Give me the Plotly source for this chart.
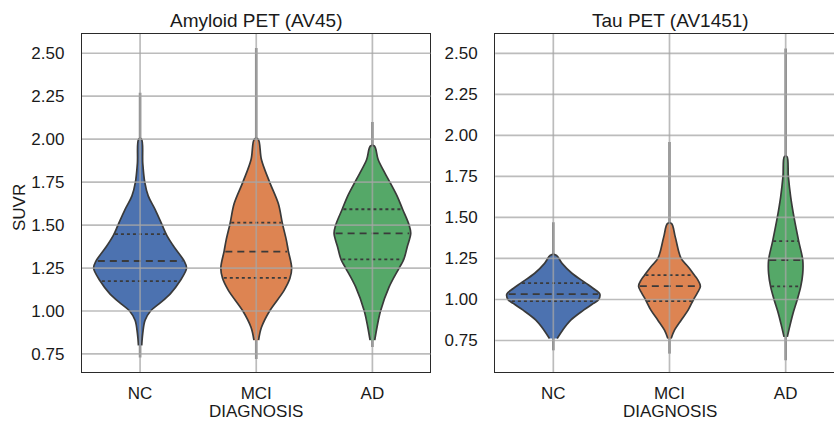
import numpy as np
import plotly.graph_objects as go

# ---------------- data ----------------
categories = ["NC", "MCI", "AD"]
colors = ["#4C72B0", "#DD8452", "#55A868"]
y_ticks = [0.75, 1.00, 1.25, 1.50, 1.75, 2.00, 2.25, 2.50]

# Amyloid PET (AV45): density profile (SUVR level, half-width in category units)
amy_nc_y = [0.80, 0.87, 0.946, 1.00, 1.04, 1.10, 1.176, 1.25, 1.29, 1.375, 1.44, 1.50, 1.59, 1.67, 1.75, 1.86, 2.00]
amy_nc_w = [0.014, 0.023, 0.043, 0.09, 0.16, 0.26, 0.345, 0.40, 0.38, 0.29, 0.23, 0.19, 0.13, 0.07, 0.04, 0.023, 0.012]
amy_mci_y = [0.83, 0.905, 1.00, 1.12, 1.19, 1.25, 1.35, 1.41, 1.51, 1.625, 1.75, 1.88, 2.00]
amy_mci_w = [0.02, 0.045, 0.115, 0.24, 0.29, 0.305, 0.276, 0.26, 0.225, 0.19, 0.115, 0.045, 0.016]
amy_ad_y = [0.83, 0.907, 1.00, 1.14, 1.25, 1.30, 1.374, 1.452, 1.50, 1.592, 1.666, 1.75, 1.80, 1.88, 1.96]
amy_ad_w = [0.02, 0.04, 0.07, 0.144, 0.23, 0.27, 0.30, 0.33, 0.316, 0.26, 0.215, 0.15, 0.11, 0.05, 0.017]
amy_min = [0.73, 0.72, 0.79]
amy_max = [2.27, 2.53, 2.10]
amy_q1 = [1.174, 1.193, 1.300]
amy_med = [1.291, 1.346, 1.452]
amy_q3 = [1.447, 1.514, 1.592]

# Tau PET (AV1451)
tau_nc_y = [0.762, 0.813, 0.874, 0.935, 0.976, 1.00, 1.033, 1.067, 1.10, 1.16, 1.22, 1.27]
tau_nc_w = [0.033, 0.08, 0.15, 0.26, 0.345, 0.39, 0.40, 0.345, 0.28, 0.16, 0.075, 0.025]
tau_mci_y = [0.762, 0.813, 0.874, 0.935, 1.00, 1.04, 1.081, 1.118, 1.148, 1.20, 1.25, 1.38, 1.463]
tau_mci_w = [0.014, 0.043, 0.10, 0.16, 0.207, 0.24, 0.266, 0.245, 0.215, 0.16, 0.10, 0.05, 0.017]
tau_ad_y = [0.772, 0.833, 0.915, 1.00, 1.08, 1.159, 1.24, 1.356, 1.50, 1.626, 1.75, 1.87]
tau_ad_w = [0.014, 0.034, 0.063, 0.10, 0.13, 0.147, 0.147, 0.112, 0.072, 0.043, 0.023, 0.011]
tau_min = [0.69, 0.67, 0.63]
tau_max = [1.47, 1.96, 2.53]
tau_q1 = [0.990, 0.990, 1.080]
tau_med = [1.033, 1.081, 1.240]
tau_q3 = [1.100, 1.148, 1.356]

panels = [
    dict(title="Amyloid PET (AV45)", xa="x", ya="y",
         prof=[(amy_nc_y, amy_nc_w), (amy_mci_y, amy_mci_w), (amy_ad_y, amy_ad_w)],
         lo=amy_min, hi=amy_max, q1=amy_q1, med=amy_med, q3=amy_q3),
    dict(title="Tau PET (AV1451)", xa="x2", ya="y2",
         prof=[(tau_nc_y, tau_nc_w), (tau_mci_y, tau_mci_w), (tau_ad_y, tau_ad_w)],
         lo=tau_min, hi=tau_max, q1=tau_q1, med=tau_med, q3=tau_q3),
]

EDGE = "#3a3a3a"
FONT = "Liberation Sans, Arial, sans-serif"
TXT = "#1a1a1a"

fig = go.Figure()
for p in panels:
    for i, cat in enumerate(categories):
        ys, ws = np.array(p["prof"][i][0]), np.array(p["prof"][i][1])
        # thin tail from min to max
        fig.add_trace(go.Scatter(x=[i, i], y=[p["lo"][i], p["hi"][i]], mode="lines",
                                 line=dict(color="#858585", width=2.6),
                                 xaxis=p["xa"], yaxis=p["ya"], hoverinfo="skip", showlegend=False))
        xs = np.concatenate([i + ws, (i - ws)[::-1]])
        yy = np.concatenate([ys, ys[::-1]])
        fig.add_trace(go.Scatter(x=xs, y=yy, mode="lines", fill="toself", fillcolor=colors[i],
                                 line=dict(color=EDGE, width=1.7, shape="spline", smoothing=1.0),
                                 xaxis=p["xa"], yaxis=p["ya"], name=cat, showlegend=False,
                                 hoverinfo="skip"))
        for q, dash in ((p["q1"][i], "3px,3px"), (p["med"][i], "7px,5px"), (p["q3"][i], "3px,3px")):
            hw = float(np.interp(q, ys, ws)) * 0.96
            fig.add_trace(go.Scatter(x=[i - hw, i + hw], y=[q, q], mode="lines",
                                     line=dict(color=EDGE, width=1.8, dash=dash),
                                     xaxis=p["xa"], yaxis=p["ya"], hoverinfo="skip", showlegend=False))

# grid lines drawn above the violins
GRID = "rgba(165,165,165,0.75)"
shapes = []
for xa, ya in (("x", "y"), ("x2", "y2")):
    for t in y_ticks:
        shapes.append(dict(type="line", xref=f"{xa} domain", yref=ya, x0=0, x1=1, y0=t, y1=t,
                           line=dict(color=GRID, width=1.7), layer="above"))
    for i in range(len(categories)):
        shapes.append(dict(type="line", xref=xa, yref=f"{ya} domain", x0=i, x1=i, y0=0, y1=1,
                           line=dict(color=GRID, width=1.7), layer="above"))

ax_common = dict(showgrid=False, zeroline=False, showline=True, linecolor="#2a2a2a", linewidth=1.3,
                 ticks="", automargin=False, tickfont=dict(family=FONT, size=17, color=TXT))

fig.update_layout(
    width=834, height=422, plot_bgcolor="white", paper_bgcolor="white",
    margin=dict(l=82, r=0, t=34, b=50, autoexpand=False),
    shapes=shapes,
    xaxis=dict(domain=[0, 0.4634], range=[-0.5, 2.5], tickvals=list(range(len(categories))),
               ticktext=categories, mirror=True, ticklabelstandoff=5, anchor="y", **ax_common),
    yaxis=dict(range=[0.645, 2.612], tickvals=y_ticks, tickformat=".2f", mirror=True,
               ticklabelstandoff=13, anchor="x", **ax_common),
    xaxis2=dict(domain=[0.5495, 1.0], range=[-0.5, 2.416], tickvals=list(range(len(categories))),
                ticktext=categories, mirror=True, ticklabelstandoff=5, anchor="y2", **ax_common),
    yaxis2=dict(range=[0.558, 2.618], tickvals=y_ticks, tickformat=".2f", mirror=False,
                ticklabelstandoff=13, anchor="x2", **ax_common),
    annotations=[
        dict(text=panels[0]["title"], xref="paper", yref="paper", x=0.2314, y=1.0414,
             xanchor="center", yanchor="middle", showarrow=False,
             font=dict(family=FONT, size=19, color=TXT)),
        dict(text=panels[1]["title"], xref="paper", yref="paper", x=0.782, y=1.0414,
             xanchor="center", yanchor="middle", showarrow=False,
             font=dict(family=FONT, size=19, color=TXT)),
        dict(text="DIAGNOSIS", xref="paper", yref="paper", x=0.2314, y=-0.1175,
             xanchor="center", yanchor="middle", showarrow=False,
             font=dict(family=FONT, size=17, color=TXT)),
        dict(text="DIAGNOSIS", xref="paper", yref="paper", x=0.782, y=-0.1175,
             xanchor="center", yanchor="middle", showarrow=False,
             font=dict(family=FONT, size=17, color=TXT)),
        dict(text="SUVR", xref="paper", yref="paper", x=-0.0838, y=0.488, textangle=-90,
             xanchor="center", yanchor="middle", showarrow=False,
             font=dict(family=FONT, size=17, color=TXT)),
    ],
)

fig.write_html("out.html", config={"displayModeBar": False},
               post_script="document.body.style.margin='0px';document.body.style.overflow='hidden';")
